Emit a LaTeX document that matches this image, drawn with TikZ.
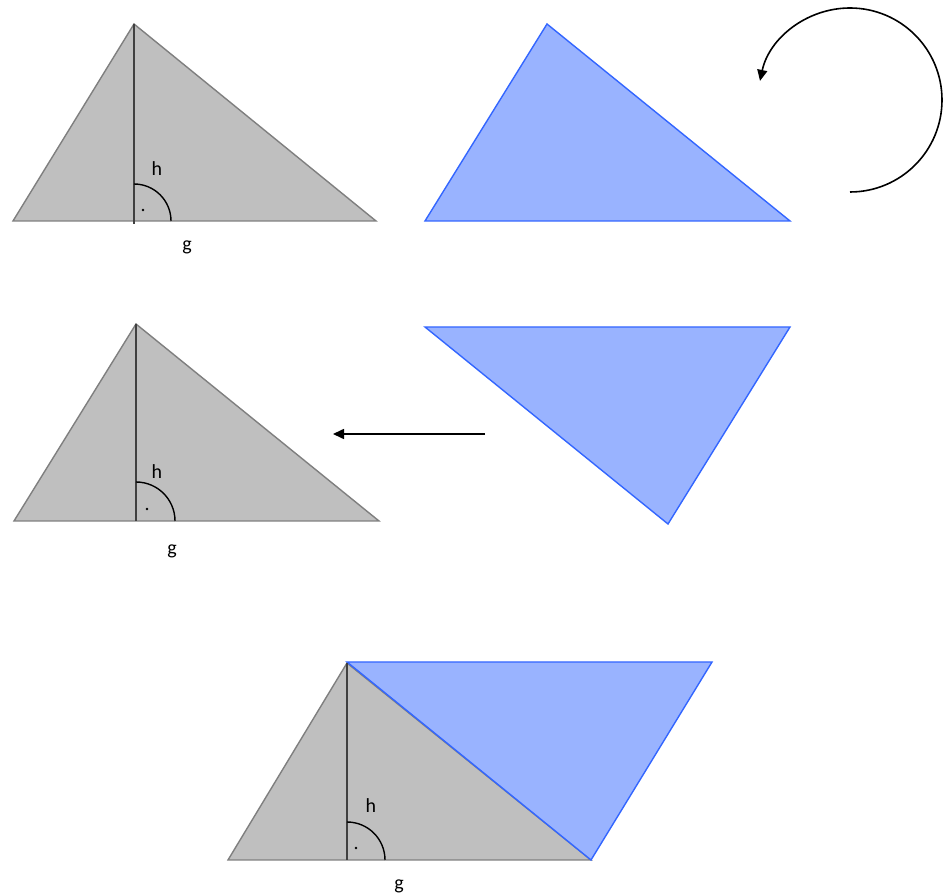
\documentclass[tikz,border=0pt]{standalone}
\usepackage{fontspec}
\setmainfont{Carlito}
\usetikzlibrary{arrows.meta}
\definecolor{grayfill}{HTML}{BFBFBF}
\definecolor{grayline}{HTML}{7F7F7F}
\definecolor{bluefill}{HTML}{99B3FF}
\definecolor{blueline}{HTML}{3366FF}
\tikzset{
  graytri/.style={fill=grayfill,draw=grayline,line width=1.4pt,line join=miter},
  bluetri/.style={fill=bluefill,draw=blueline,line width=1.4pt},
  height/.style={draw=black!75,line width=1.4pt},
  rightarc/.style={draw=black,line width=1.4pt},
  lbl/.style={font=\fontsize{20}{24}\selectfont,inner sep=0pt},
  arr/.style={draw=black,line width=1.6pt,-{Triangle[length=11pt,width=10pt]}}
}
\begin{document}
\begin{tikzpicture}[x=1pt,y=1pt]
\useasboundingbox (0,0) rectangle (946,895);
% triangle 1
\draw[graytri] (13,674) -- (134,871) -- (376,674) -- cycle;
\draw[height] (134,871) -- (134,671);
\draw[rightarc] (171,674) arc[start angle=0,end angle=90,radius=37];
\fill (143,685) circle (1.4);
\node[lbl] (h1) at (157,726) {h};
\node[lbl] (g1) at (187,648) {g};
% blue triangle 1
\draw[bluetri] (425,674) -- (547,871) -- (790,674) -- cycle;
% rotation arrow
\coordinate (rs) at (850,703);
\draw[arr] (rs) arc[start angle=-90,end angle=168,radius=92];
% triangle 2
\draw[graytri] (14,374) -- (136,571) -- (379,374) -- cycle;
\draw[height] (136,571) -- (136,374);
\draw[rightarc] (175,374) arc[start angle=0,end angle=90,radius=39];
\fill (147,386) circle (1.4);
\node[lbl] (h2) at (157,423) {h};
\node[lbl] (g2) at (172,344) {g};
% translation arrow
\coordinate (as) at (485,461);
\coordinate (ae) at (333,461);
\draw[arr] (as) -- (ae);
% blue triangle 2
\draw[bluetri] (425,568) -- (790,568) -- (668,371) -- cycle;
% bottom composite
\draw[graytri] (228,35) -- (347,232) -- (591,35) -- cycle;
\draw[bluetri] (347,233) -- (712,233) -- (591,35) -- cycle;
\draw[height] (347,232) -- (347,35);
\draw[rightarc] (385,35) arc[start angle=0,end angle=90,radius=38];
\fill (356,47) circle (1.4);
\node[lbl] (h3) at (371,89) {h};
\node[lbl] (g3) at (399,9) {g};
\end{tikzpicture}
\end{document}
